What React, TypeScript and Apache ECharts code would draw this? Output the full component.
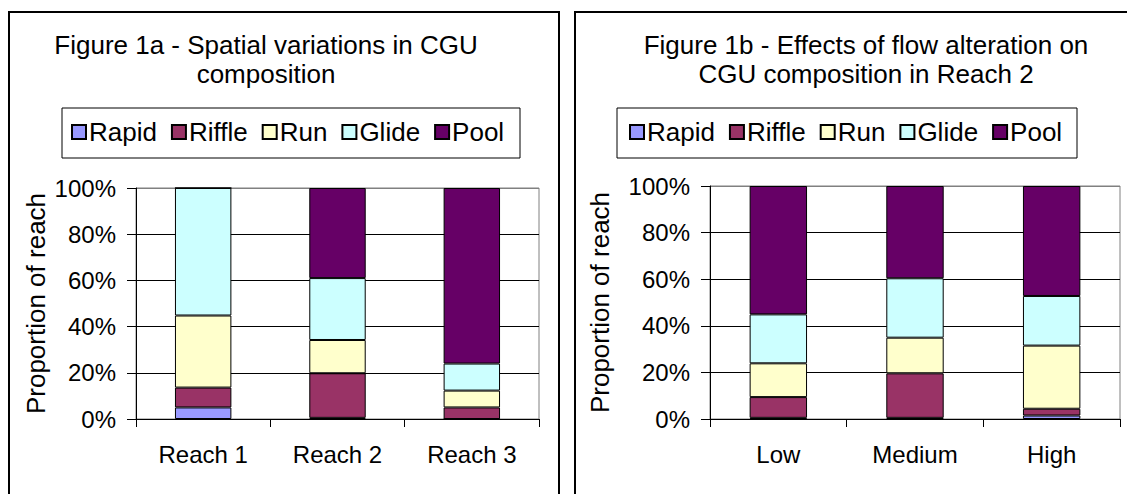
import React, { useEffect, useRef } from "react";
import * as echarts from "echarts";

const categoriesA = ["Reach 1", "Reach 2", "Reach 3"];
const categoriesB = ["Low", "Medium", "High"];
const seriesNames = ["Rapid", "Riffle", "Run", "Glide", "Pool"];
const seriesColors = ["#9999FF", "#993366", "#FFFFCC", "#CCFFFF", "#660066"];

// Figure 1a values (% of reach)
const rapidA = [5, 0.5, 0];
const riffleA = [8.6, 19.3, 5];
const runA = [31.2, 14.4, 7.3];
const glideA = [55.2, 26.8, 11.7];
const poolA = [0, 39, 76];

// Figure 1b values (% of reach)
const rapidB = [0.5, 0.5, 1.5];
const riffleB = [8.9, 19.1, 2.9];
const runB = [14.5, 15.3, 27.1];
const glideB = [21, 25.5, 21.3];
const poolB = [55.1, 39.6, 47.2];

const yTicks = [0, 20, 40, 60, 80, 100];

const FONT = "'Liberation Sans', Arial, sans-serif";

export default function App() {
  const ref = useRef<HTMLDivElement>(null);
  useEffect(() => {
    if (!ref.current) return;
    const chart = echarts.init(ref.current, undefined, { renderer: "svg" });
    const dataA = [rapidA, riffleA, runA, glideA, poolA];
    const dataB = [rapidB, riffleB, runB, glideB, poolB];

    const grids = [
      { left: 136, top: 188, width: 403, height: 231 },
      { left: 710, top: 186, width: 410, height: 233 },
    ];

    const mkX = (cats: string[], gi: number) => ({
      type: "category",
      gridIndex: gi,
      data: cats,
      boundaryGap: true,
      axisLine: { show: true, lineStyle: { color: "#000", width: 1 } },
      axisTick: { show: true, length: 8, alignWithLabel: false, lineStyle: { color: "#000" } },
      axisLabel: { color: "#000", fontSize: 24, fontFamily: FONT, margin: 23 },
      splitLine: { show: false },
    });
    const mkY = (gi: number, gap: number) => ({
      type: "value",
      gridIndex: gi,
      min: yTicks[0],
      max: yTicks[yTicks.length - 1],
      interval: 20,
      name: "Proportion of reach",
      nameLocation: "middle",
      nameRotate: 90,
      nameGap: gap,
      nameTextStyle: { color: "#000", fontSize: 26, fontFamily: FONT },
      axisLine: { show: true, lineStyle: { color: "#000", width: 1 } },
      axisTick: { show: true, length: 9, inside: false, lineStyle: { color: "#000" } },
      axisLabel: { color: "#000", fontSize: 24, fontFamily: FONT, margin: 20, formatter: "{value}%" },
      splitLine: {
        show: true,
        lineStyle: { color: ["#000", "#000", "#000", "#000", "#000", "#808080"], width: 1 },
      },
    });

    const series: any[] = [];
    [dataA, dataB].forEach((d, gi) => {
      seriesNames.forEach((name, i) => {
        series.push({
          type: "bar",
          name,
          xAxisIndex: gi,
          yAxisIndex: gi,
          stack: "s" + gi,
          data: d[i],
          barWidth: "42%",
          itemStyle: { color: seriesColors[i], borderColor: "#000", borderWidth: 1 },
          emphasis: { disabled: true },
        });
      });
    });

    const legendCommon = {
      data: seriesNames,
      orient: "horizontal",
      icon: "rect",
      itemWidth: 14,
      itemHeight: 14,
      itemGap: 14,
      textStyle: { color: "#000", fontSize: 26, fontFamily: FONT, padding: [0, 0, 0, -2] },
      selectedMode: false,
      padding: 0,
    };

    const titleText = (x: number, y: number, text: string) => ({
      type: "text",
      x,
      y,
      z: 10,
      style: {
        text,
        fill: "#000",
        fontSize: 26,
        fontFamily: FONT,
        textAlign: "center",
        textVerticalAlign: "middle",
      },
    });

    chart.setOption({
      animation: false,
      color: seriesColors,
      grid: grids.map((g) => ({ ...g, show: true, borderColor: "#808080", borderWidth: 1, backgroundColor: "transparent" })),
      xAxis: [mkX(categoriesA, 0), mkX(categoriesB, 1)],
      yAxis: [mkY(0, 87), mkY(1, 97)],
      legend: [
        { ...legendCommon, left: 71, top: 119 },
        { ...legendCommon, left: 629, top: 119 },
      ],
      graphic: [
        {
          type: "rect",
          z: -10,
          shape: { x: 9, y: 12, width: 550, height: 520 },
          style: { fill: "#fff", stroke: "#000", lineWidth: 2 },
        },
        {
          type: "rect",
          z: -10,
          shape: { x: 575, y: 12, width: 580, height: 520 },
          style: { fill: "#fff", stroke: "#000", lineWidth: 2 },
        },
        {
          type: "rect",
          z: -5,
          shape: { x: 62, y: 108, width: 458, height: 50 },
          style: { fill: "#fff", stroke: "#000", lineWidth: 1 },
        },
        {
          type: "rect",
          z: -5,
          shape: { x: 617, y: 108, width: 460, height: 50 },
          style: { fill: "#fff", stroke: "#000", lineWidth: 1 },
        },
        titleText(266, 45, "Figure 1a - Spatial variations in CGU"),
        titleText(266, 74, "composition"),
        titleText(866, 45, "Figure 1b - Effects of flow alteration on"),
        titleText(866, 74, "CGU composition in Reach 2"),
      ],
      series,
    });
    return () => chart.dispose();
  }, []);
  return (
    <div
      ref={ref}
      style={{ position: "fixed", left: 0, top: 0, width: 1127, height: 494, background: "#fff" }}
    />
  );
}
